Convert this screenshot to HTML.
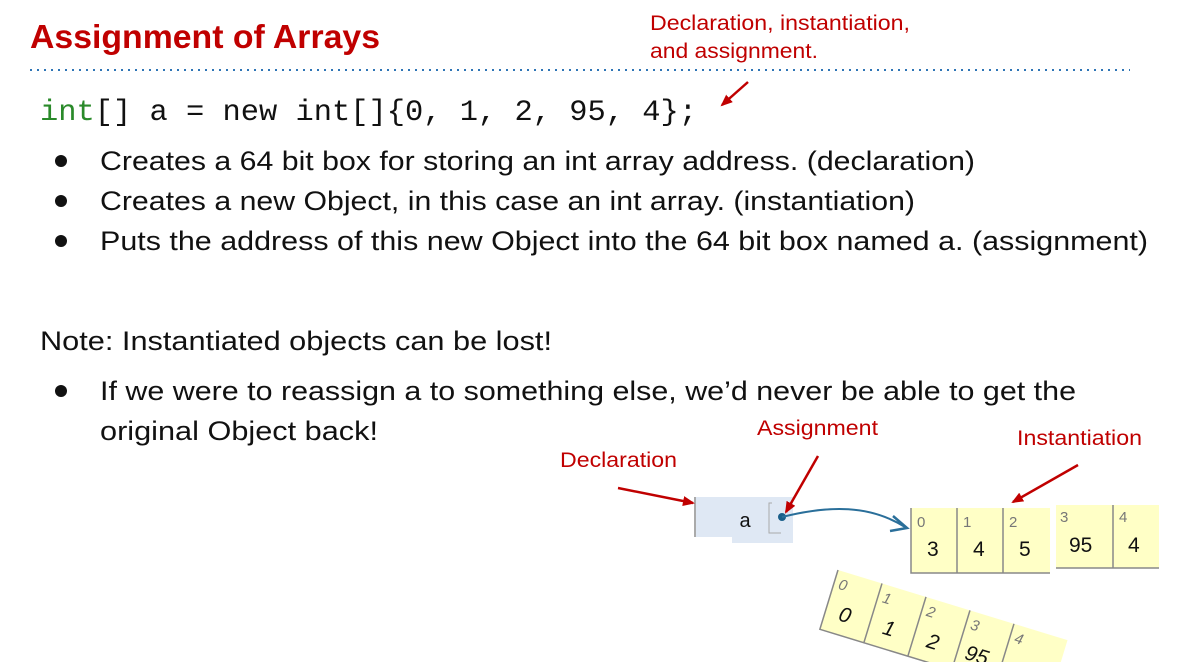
<!DOCTYPE html>
<html><head><meta charset="utf-8"><style>
html,body{margin:0;padding:0;background:#fff;width:1193px;height:662px;overflow:hidden}
svg{display:block;overflow:hidden}
.t{font-family:"Liberation Sans",sans-serif;font-size:27px;fill:#111}
.r{font-family:"Liberation Sans",sans-serif;font-size:21px;fill:#c00000}
.m{font-family:"Liberation Mono",monospace;font-size:30px;fill:#111}
.ci{font-family:"Liberation Sans",sans-serif;font-size:15px;fill:#777}
.cv{font-family:"Liberation Sans",sans-serif;font-size:21px;fill:#111}
</style></head><body>
<svg width="1193" height="662" viewBox="0 0 1193 662">
<defs><marker id="ra" markerWidth="12" markerHeight="10" refX="10" refY="5" orient="auto" markerUnits="userSpaceOnUse"><path d="M0,0 L12,5 L0,10 z" fill="#c00000"/></marker></defs>
<text x="30" y="48" font-family="Liberation Sans,sans-serif" font-weight="bold" font-size="33" fill="#c00000" textLength="350" lengthAdjust="spacingAndGlyphs">Assignment of Arrays</text>
<line x1="30" y1="70" x2="1130" y2="70" stroke="#2e75b6" stroke-width="2" stroke-dasharray="2,5"/>
<text class="r" x="650" y="30" textLength="260" lengthAdjust="spacingAndGlyphs">Declaration, instantiation,</text>
<text class="r" x="650" y="58" textLength="168" lengthAdjust="spacingAndGlyphs">and assignment.</text>
<line x1="748" y1="82" x2="722" y2="105" stroke="#c00000" stroke-width="2.5" marker-end="url(#ra)"/>
<text class="m" x="40" y="120" textLength="657" lengthAdjust="spacingAndGlyphs"><tspan fill="#2a8a2a">int</tspan>[] a = new int[]{0, 1, 2, 95, 4};</text>
<g class="t">
<circle cx="61" cy="161" r="6" fill="#111"/><text x="100" y="170" textLength="875" lengthAdjust="spacingAndGlyphs">Creates a 64 bit box for storing an int array address. (declaration)</text>
<circle cx="61" cy="201" r="6" fill="#111"/><text x="100" y="210" textLength="815" lengthAdjust="spacingAndGlyphs">Creates a new Object, in this case an int array. (instantiation)</text>
<circle cx="61" cy="241" r="6" fill="#111"/><text x="100" y="250" textLength="1048" lengthAdjust="spacingAndGlyphs">Puts the address of this new Object into the 64 bit box named a. (assignment)</text>
<text x="40" y="350" textLength="512" lengthAdjust="spacingAndGlyphs">Note: Instantiated objects can be lost!</text>
<circle cx="61" cy="391" r="6" fill="#111"/><text x="100" y="400" textLength="976" lengthAdjust="spacingAndGlyphs">If we were to reassign a to something else, we’d never be able to get the</text>
<text x="100" y="440" textLength="278" lengthAdjust="spacingAndGlyphs">original Object back!</text>
</g>
<text class="r" x="757" y="435" textLength="121" lengthAdjust="spacingAndGlyphs">Assignment</text>
<text class="r" x="560" y="467" textLength="117" lengthAdjust="spacingAndGlyphs">Declaration</text>
<text class="r" x="1017" y="445" textLength="125" lengthAdjust="spacingAndGlyphs">Instantiation</text>
<!-- variable box -->
<rect x="695" y="497" width="98" height="40" fill="#dfe8f4"/>
<rect x="732" y="537" width="61" height="6" fill="#dfe8f4"/>
<line x1="695" y1="497" x2="695" y2="537" stroke="#aaa" stroke-width="2"/>
<text x="745" y="527" font-family="Liberation Sans,sans-serif" font-size="20" fill="#111" text-anchor="middle">a</text>
<path d="M772,503 L769,503 L769,533 L781,533" fill="none" stroke="#aaa" stroke-width="1"/>
<circle cx="782" cy="517" r="4" fill="#1a5f8a"/>
<path d="M782,517 C830,505 870,505 905,527" fill="none" stroke="#2a6f9a" stroke-width="2"/>
<path d="M893,516 L907,528 L890,531" fill="none" stroke="#2a6f9a" stroke-width="2.5"/>
<line x1="618" y1="488" x2="693" y2="503" stroke="#c00000" stroke-width="2.5" marker-end="url(#ra)"/>
<line x1="818" y1="456" x2="786" y2="512" stroke="#c00000" stroke-width="2.5" marker-end="url(#ra)"/>
<line x1="1078" y1="465" x2="1013" y2="502" stroke="#c00000" stroke-width="2.5" marker-end="url(#ra)"/>
<!-- array -->
<g>
<rect x="911" y="508" width="139" height="65" fill="#ffffc6"/>
<path d="M911,508 L911,573 L1050,573 M957,508 L957,573 M1003,508 L1003,573" stroke="#888" stroke-width="1.5" fill="none"/>
<text class="ci" x="917" y="527">0</text><text class="ci" x="963" y="527">1</text><text class="ci" x="1009" y="527">2</text>
<text class="cv" x="927" y="556">3</text><text class="cv" x="973" y="556">4</text><text class="cv" x="1019" y="556">5</text>
<rect x="1056" y="505" width="103" height="63" fill="#ffffc6"/>
<path d="M1056,568 L1159,568 M1113,505 L1113,568" stroke="#888" stroke-width="1.5" fill="none"/>
<text class="ci" x="1060" y="522">3</text><text class="ci" x="1119" y="522">4</text>
<text class="cv" x="1069" y="552">95</text><text class="cv" x="1128" y="552">4</text>
</g>
<g transform="translate(838,570) rotate(17)">
<rect x="0" y="0" width="240" height="62" fill="#ffffc6"/>
<path d="M0,0 L0,62 L240,62 M46,0 L46,62 M92,0 L92,62 M138,0 L138,62 M184,0 L184,62" stroke="#888" stroke-width="1.5" fill="none"/>
<text class="ci" x="5" y="18" font-style="italic">0</text><text class="ci" x="51" y="18" font-style="italic">1</text><text class="ci" x="97" y="18" font-style="italic">2</text><text class="ci" x="143" y="18" font-style="italic">3</text><text class="ci" x="189" y="18" font-style="italic">4</text>
<text class="cv" x="14" y="48" font-style="italic">0</text><text class="cv" x="60" y="48" font-style="italic">1</text><text class="cv" x="106" y="48" font-style="italic">2</text><text class="cv" x="146" y="48" font-style="italic">95</text>
</g>
</svg>
</body></html>
